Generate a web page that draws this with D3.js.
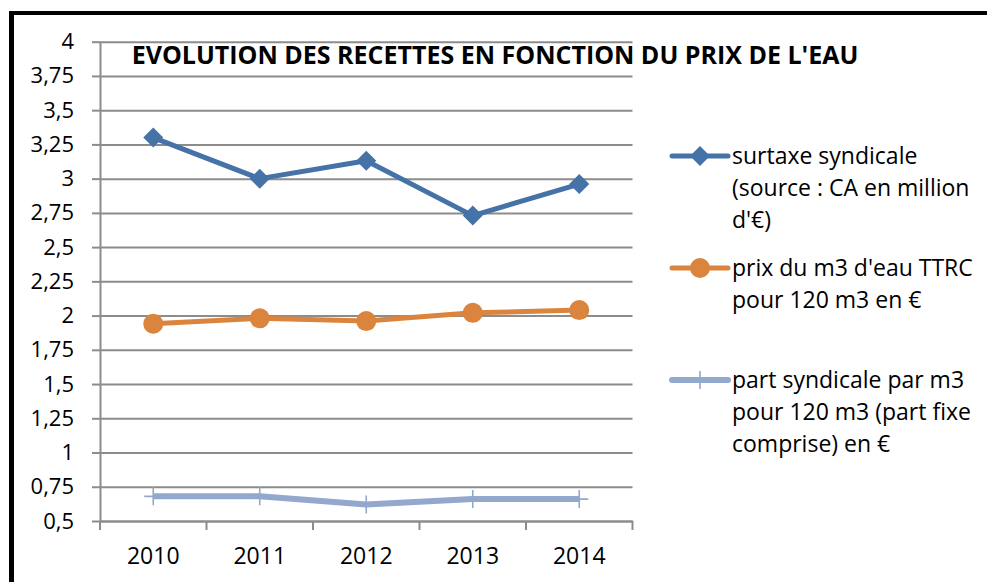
<!DOCTYPE html>
<html>
<head>
<meta charset="utf-8">
<script src="https://cdn.jsdelivr.net/npm/d3@7"></script>
<style>
  html, body { margin: 0; padding: 0; background: #fff; }
  svg { display: block; font-family: "Open Sans", "Liberation Sans", sans-serif; }
</style>
</head>
<body>
<div id="chart"></div>
<script>
const years = ['2010', '2011', '2012', '2013', '2014'];
const surtaxe = [3.3, 3.0, 3.13, 2.73, 2.96];
const prixM3 = [1.94, 1.98, 1.96, 2.02, 2.04];
const partSyndicale = [0.68, 0.68, 0.62, 0.66, 0.66];
const yTicks = [0.5, 0.75, 1, 1.25, 1.5, 1.75, 2, 2.25, 2.5, 2.75, 3, 3.25, 3.5, 3.75, 4];
const seriesLabels = [
  ['surtaxe syndicale', '(source : CA en million', "d'€)"],
  ["prix du m3 d'eau TTRC", 'pour 120 m3 en €'],
  ['part syndicale par m3', 'pour 120 m3 (part fixe', 'comprise) en €']
];
const title = "EVOLUTION DES RECETTES EN FONCTION DU PRIX DE L'EAU";

const WIDTH = 987;
const HEIGHT = 582;
const PLOT = { LEFT: 100, RIGHT: 632.5, TOP: 41.7, BOTTOM: 521 };
const GRID = '#8c8c8c';
const FONT = '"Open Sans", sans-serif';

const series = [
  { values: surtaxe, color: '#4572A7', marker: 'diamond', width: 5 },
  { values: prixM3, color: '#DB843D', marker: 'circle', width: 5 },
  { values: partSyndicale, color: '#92A8CD', marker: 'plus', width: 6 }
];

const svg = d3.select('#chart').append('svg').attr('width', WIDTH).attr('height', HEIGHT);

// cadre noir (haut et gauche seulement)
svg.append('line').attr('x1', 9).attr('x2', WIDTH).attr('y1', 13).attr('y2', 13)
  .attr('stroke', '#000').attr('stroke-width', 4);
svg.append('line').attr('x1', 11.5).attr('x2', 11.5).attr('y1', 11).attr('y2', HEIGHT)
  .attr('stroke', '#000').attr('stroke-width', 5);

const xScale = d3.scaleBand().domain(years).range([PLOT.LEFT, PLOT.RIGHT]);
const yScale = d3.scaleLinear().domain([0.5, 4]).range([PLOT.BOTTOM, PLOT.TOP]);
const cx = (i) => xScale(years[i]) + xScale.bandwidth() / 2;

// grille horizontale
svg.append('g')
  .attr('transform', 'translate(' + PLOT.LEFT + ',0)')
  .call(d3.axisLeft(yScale).tickValues(yTicks).tickSizeInner(-(PLOT.RIGHT - PLOT.LEFT)).tickSizeOuter(0).tickFormat(() => ''))
  .call((g) => g.select('.domain').remove())
  .selectAll('.tick line').attr('stroke', GRID).attr('stroke-width', 2);

// axe Y
const yAxis = svg.append('g')
  .attr('transform', 'translate(' + PLOT.LEFT + ',0)')
  .call(d3.axisLeft(yScale).tickValues(yTicks).tickSizeInner(8).tickSizeOuter(0).tickPadding(18)
    .tickFormat((d) => String(d).replace('.', ',')));
yAxis.select('.domain').attr('stroke', GRID).attr('stroke-width', 2);
yAxis.selectAll('.tick line').attr('stroke', GRID).attr('stroke-width', 2);
yAxis.selectAll('.tick text').attr('font-size', 22).attr('fill', '#000').attr('font-family', FONT);

// axe X : étiquettes au centre, graduations entre les catégories
const xAxis = svg.append('g')
  .attr('transform', 'translate(0,' + PLOT.BOTTOM + ')')
  .call(d3.axisBottom(xScale).tickSize(0).tickPadding(27));
xAxis.select('.domain').attr('stroke', GRID).attr('stroke-width', 2);
xAxis.selectAll('.tick text').attr('font-size', 23).attr('fill', '#000').attr('font-family', FONT);
xAxis.selectAll('.sep')
  .data(years.map((y) => xScale(y)).concat([PLOT.RIGHT]))
  .join('line')
  .attr('class', 'sep')
  .attr('x1', (d) => d).attr('x2', (d) => d)
  .attr('y1', 0).attr('y2', 9)
  .attr('stroke', GRID).attr('stroke-width', 2);

function drawMarker(g, type, color, x, y) {
  if (type === 'diamond') {
    g.append('path')
      .attr('d', d3.symbol(d3.symbolSquare, 200)())
      .attr('transform', 'translate(' + x + ',' + y + ') rotate(45)')
      .attr('fill', color);
  } else if (type === 'circle') {
    g.append('circle').attr('cx', x).attr('cy', y).attr('r', 10).attr('fill', color);
  } else {
    g.append('path')
      .attr('d', 'M' + (x - 9) + ',' + y + 'H' + (x + 9) + 'M' + x + ',' + (y - 9) + 'V' + (y + 9))
      .attr('stroke', color).attr('stroke-width', 1.6).attr('fill', 'none');
  }
}

const line = d3.line().x((d, i) => cx(i)).y((d) => yScale(d));

series.forEach((s) => {
  const g = svg.append('g');
  g.append('path')
    .datum(s.values)
    .attr('fill', 'none')
    .attr('stroke', s.color)
    .attr('stroke-width', s.width)
    .attr('stroke-linejoin', 'round')
    .attr('d', line);
  s.values.forEach((v, i) => drawMarker(g, s.marker, s.color, cx(i), yScale(v)));
});

// titre
svg.append('text')
  .attr('x', 495).attr('y', 64)
  .attr('text-anchor', 'middle')
  .attr('font-weight', 'bold')
  .attr('font-size', 25)
  .text(title);

// légende
const legendY = [156, 268, 380];
const LINE_H = 32;
series.forEach((s, k) => {
  const g = svg.append('g');
  const y = legendY[k];
  g.append('line').attr('x1', 672).attr('x2', 728).attr('y1', y).attr('y2', y)
    .attr('stroke', s.color).attr('stroke-width', s.width).attr('stroke-linecap', 'round');
  drawMarker(g, s.marker, s.color, 700, y);
  g.selectAll('text')
    .data(seriesLabels[k])
    .join('text')
    .attr('x', 732)
    .attr('y', (d, j) => y + 8 + j * LINE_H)
    .attr('font-size', 23)
    .text((d) => d);
});
</script>
</body>
</html>
